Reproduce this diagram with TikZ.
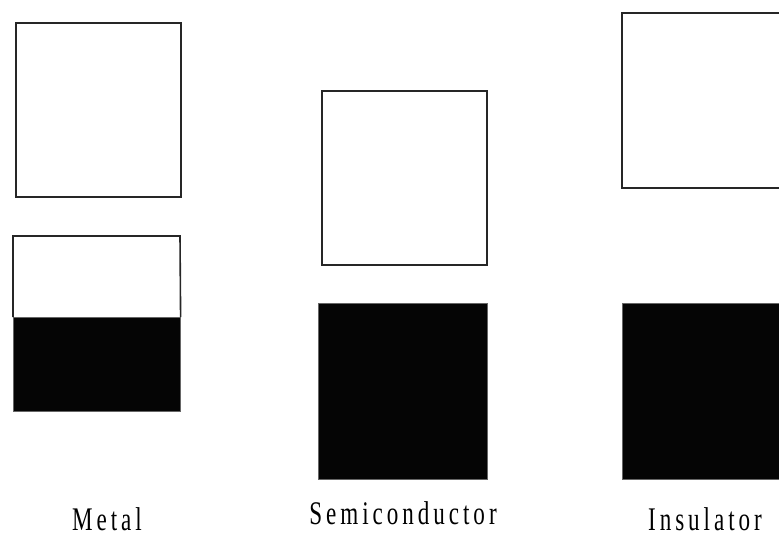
\documentclass[tikz,border=0pt]{standalone}
\usepackage{fontspec}
\setmainfont{Liberation Serif}
\newfontfamily\lblfont[FakeStretch=0.7,LetterSpace=12]{Liberation Serif}
\begin{document}
\begin{tikzpicture}[x=1pt,y=-1pt,
  band/.style={draw=black!85,line width=1.6pt,fill=white},
  full/.style={fill=black!98,draw=black!60,line width=0.6pt},
  lbl/.style={anchor=base,inner sep=0pt,font=\lblfont\fontsize{33}{33}\selectfont}]
\useasboundingbox (0,0) rectangle (779,536);
\clip (0,0) rectangle (779,536);
% Metal
\node[band,minimum width=165pt,minimum height=174pt,inner sep=0pt,anchor=north west] (mc) at (15,22) {};
\node[full,minimum width=167pt,minimum height=94pt,inner sep=0pt,anchor=north west] (mv) at (13,317) {};
\draw[draw=black!85,line width=1.6pt] (mv.north west) |- (180,236) -- (mv.north east);
\node[lbl] (ml) at (107,530) {Metal};
% Semiconductor
\node[band,minimum width=165pt,minimum height=174pt,inner sep=0pt,anchor=north west] (sc) at (321,90) {};
\node[full,minimum width=169pt,minimum height=176pt,inner sep=0pt,anchor=north west] (sv) at (318,303) {};
\node[lbl] (sl) at (403,524) {Semiconductor};
% Insulator
\node[band,minimum width=180pt,minimum height=175pt,inner sep=0pt,anchor=north west] (ic) at (621,12) {};
\node[full,minimum width=180pt,minimum height=176pt,inner sep=0pt,anchor=north west] (iv) at (622,303) {};
\node[lbl] (il) at (705,530) {Insulator};
\end{tikzpicture}
\end{document}
